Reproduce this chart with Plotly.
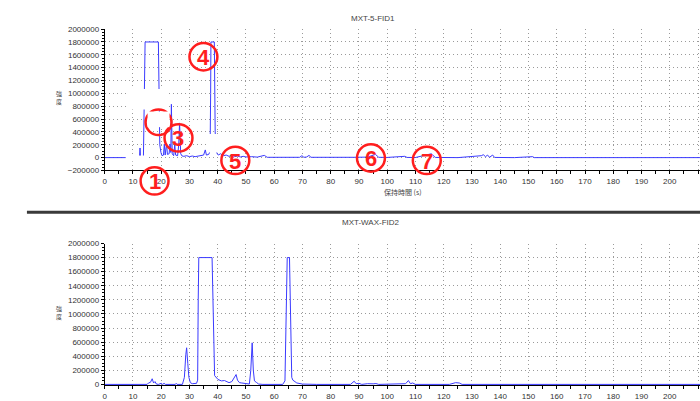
import plotly.graph_objects as go

# ---------------- data ----------------
fid1_time = [0, 7, 12.3, 12.5, 12.7, 13.7, 14.0, 14.2, 14.3, 19.0, 19.2, 19.5, 19.9, 20.3, 20.8,
             21.1, 21.4, 21.9, 22.2, 22.8, 23.1, 23.4, 23.6, 23.9, 24.4, 24.8, 25.1, 25.8, 26.2,
             26.5, 26.9, 27.4, 28, 29, 30, 31, 32, 33, 34, 35, 35.6, 36, 36.8, 37.3, 37.5, 37.6,
             38.8, 38.9, 39.1, 39.4, 39.7, 40.2, 41, 42, 43, 44, 45, 46, 47, 48, 49, 50, 52, 54,
             56.5, 57.5, 60, 65, 69, 69.8, 70.5, 71.5, 72.3, 73, 80, 88, 93, 95.8, 97, 100, 106.2,
             107, 110, 115.6, 117, 125, 133.3, 134, 134.8, 135.5, 136.2, 137.3, 138, 145, 151.5,
             152, 210.7]
fid1_signal = [0, 0, 0, 150000, 0, 0, 900000, 1650000, 1800000, 1800000, 450000, 200000, 80000, 30000, 40000,
               210000, 40000, 220000, 50000, 60000, 210000, 80000, 830000, 60000, 30000, 200000, 40000, 30000, 200000,
               540000, 60000, 25000, 20000, 30000, 15000, 25000, 15000, 20000, 30000, 40000, 120000, 40000, 50000, 100000, 1000000, 1800000,
               1800000, 1200000, 400000, 150000, 70000, 40000, 60000, 30000, 40000, 20000, 35000, 15000, 25000, 10000, 20000, 10000, 15000, 8000,
               35000, 5000, 3000, 2000, 5000, 30000, 5000, 10000, 35000, 5000, 0, 5000, 8000, 50000, 5000, 3000, 20000,
               3000, 2000, 60000, 3000, 0, 30000, 45000, 15000, 40000, 5000, 40000, 3000, 0, 15000,
               0, 0]

fid2_time = [0, 15, 15.5, 16.2, 16.8, 17.3, 17.8, 18.3, 19, 20, 20.5, 21, 21.5, 25, 25.3, 25.6, 27.5,
             28.2, 28.7, 29.0, 29.4, 29.8, 30.3, 31, 32.5, 32.9, 33.1, 33.3, 38.0, 38.4, 38.9, 40.1,
             41.3, 42.4, 43.2, 44, 45, 45.8, 46.5, 47, 47.7, 48.5, 50, 51.2, 51.7, 52.2, 52.6, 53,
             53.8, 54.5, 56, 63, 63.8, 64.3, 64.6, 65.4, 65.8, 66.2, 66.6, 67.2, 68, 70, 75, 87, 87.5,
             88.3, 89, 90, 91, 93, 95, 96, 97, 105, 106.5, 107.5, 108.2, 109, 110, 122, 123.2, 124.2,
             125.5, 126.5, 210.7]
fid2_signal = [0, 0, 20000, 30000, 80000, 20000, 40000, 5000, 0, 15000, 0, 15000, 0, 0, 15000, 0, 0,
               100000, 420000, 520000, 300000, 100000, 25000, 10000, 15000, 60000, 1200000, 1800000, 1800000, 800000, 125000, 70000,
               50000, 55000, 35000, 25000, 40000, 100000, 140000, 60000, 25000, 20000, 10000, 5000, 200000, 590000, 200000, 50000,
               25000, 5000, 0, 0, 50000, 900000, 1800000, 1800000, 700000, 100000, 60000, 40000, 20000, 5000, 0, 0, 20000,
               45000, 10000, 15000, 0, 10000, 8000, 12000, 0, 0, 10000, 55000, 10000, 20000, 0, 0, 15000, 25000,
               20000, 0, 0]

panel_titles = ["MXT-5-FID1", "MXT-WAX-FID2"]
x_title = "保持時間 (s)"
y_title = "強<br>度"
peak_labels = ["1", "2", "3", "4", "5", "6", "7"]

# ---------------- layout helpers (pixel -> paper) ----------------
W, H = 700, 401
def px(x):
    return x / W
def py(y):
    return 1 - y / H

BLUE = "#3a3aff"
RED = "#ff1e1e"
GRID = "#9a9a9a"
TXT = "#333333"

fig = go.Figure()
fig.add_trace(go.Scatter(x=fid1_time, y=fid1_signal, mode="lines",
                         line=dict(color=BLUE, width=1), xaxis="x", yaxis="y",
                         showlegend=False, hoverinfo="skip"))
fig.add_trace(go.Scatter(x=fid2_time, y=fid2_signal, mode="lines",
                         line=dict(color=BLUE, width=1), xaxis="x2", yaxis="y2",
                         showlegend=False, hoverinfo="skip"))

xcommon = dict(range=[0, 210.7], tick0=0, dtick=10, showgrid=True, gridcolor=GRID,
               griddash="1px,3px", gridwidth=1, showline=True, linecolor="black",
               linewidth=1, ticks="outside", ticklen=3, tickcolor="black",
               tickfont=dict(family="Liberation Sans", size=8, color=TXT),
               minor=dict(dtick=5, ticks="outside", ticklen=3, tickcolor="black", showgrid=False),
               zeroline=False, domain=[px(103), 1.0], fixedrange=True)
ycommon = dict(tick0=0, dtick=200000, tickformat="d", showgrid=True, gridcolor=GRID,
               griddash="1px,3px", gridwidth=1, showline=True, linecolor="black",
               linewidth=1, ticks="outside", ticklen=3, tickcolor="black",
               tickfont=dict(family="Liberation Sans", size=8, color=TXT),
               minor=dict(dtick=50000, ticks="outside", ticklen=2, tickcolor="black", showgrid=False),
               zeroline=False, fixedrange=True)

fig.update_layout(
    width=W, height=H, margin=dict(l=0, r=0, t=0, b=0),
    paper_bgcolor="white", plot_bgcolor="white",
    xaxis=dict(**xcommon, anchor="y"),
    yaxis=dict(**ycommon, range=[-200000, 2000000], domain=[py(170.3), py(25.7)], anchor="x"),
    xaxis2=dict(**xcommon, anchor="y2", layer="below traces"),
    yaxis2=dict(**ycommon, range=[-12000, 2000000], domain=[py(390), py(245)], anchor="x2"),
)

shapes = []
# separator line between the two chromatograms
shapes.append(dict(type="line", xref="paper", yref="paper", x0=px(25), x1=1.0,
                   y0=py(213), y1=py(213), line=dict(color="#3a3a3a", width=3)))
# white masks over parts of the upper chromatogram
for (a, b, c, d) in [(124, 155, 146, 161), (125, 87, 166, 108), (206, 133, 248, 152)]:
    shapes.append(dict(type="rect", xref="paper", yref="paper", x0=px(a), x1=px(c),
                       y0=py(d), y1=py(b), fillcolor="white", line=dict(width=0), layer="above"))

# circled peak numbers
circles = {"1": (153, 181), "3": (177, 137), "4": (202, 54), "5": (234, 160),
           "6": (370, 157.5), "7": (426, 160)}
R = 14
for lab in peak_labels:
    if lab == "2":
        continue
    cx, cy = circles[lab]
    shapes.append(dict(type="circle", xref="paper", yref="paper",
                       x0=px(cx - R), x1=px(cx + R), y0=py(cy + R), y1=py(cy - R),
                       line=dict(color=RED, width=2.5), layer="above"))
# partially hidden circle "2"
shapes.append(dict(type="circle", xref="paper", yref="paper",
                   x0=px(157 - 13), x1=px(157 + 13), y0=py(121 + 13), y1=py(121 - 13),
                   line=dict(color=RED, width=2.5), layer="above"))
shapes.append(dict(type="rect", xref="paper", yref="paper", x0=px(146), x1=px(168),
                   y0=py(126), y1=py(110), fillcolor="white", line=dict(width=0), layer="above"))
fig.update_layout(shapes=shapes)

ann = []
for lab, (cx, cy) in circles.items():
    ann.append(dict(text="<b>%s</b>" % lab, x=px(cx), y=py(cy), xref="paper", yref="paper",
                    xanchor="center", yanchor="middle", showarrow=False, yshift=-1,
                    font=dict(family="Liberation Sans", size=22, color=RED)))
ann.append(dict(text=panel_titles[0], x=px(372), y=py(15), xref="paper", yref="paper",
                xanchor="center", yanchor="middle", showarrow=False,
                font=dict(family="Liberation Sans", size=8, color="#444")))
ann.append(dict(text=panel_titles[1], x=px(370), y=py(224), xref="paper", yref="paper",
                xanchor="center", yanchor="middle", showarrow=False,
                font=dict(family="Liberation Sans", size=8, color="#444")))
ann.append(dict(text=x_title, x=px(402), y=py(192), xref="paper", yref="paper",
                xanchor="center", yanchor="middle", showarrow=False,
                font=dict(family="Noto Sans CJK JP", size=7, color="#444")))
for yy in (96, 316):
    ann.append(dict(text=y_title, x=px(57), y=py(yy), xref="paper", yref="paper",
                    xanchor="center", yanchor="middle", showarrow=False,
                    font=dict(family="Noto Sans CJK JP", size=6, color="#444")))
fig.update_layout(annotations=ann)

fig.write_html("out.html", config={"displayModeBar": False},
               post_script="document.body.style.margin='0';document.body.style.overflow='hidden';")
